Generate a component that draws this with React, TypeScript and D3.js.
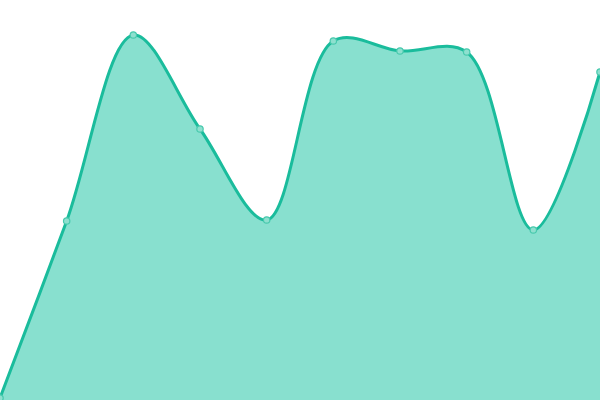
import React from "react";
import * as d3 from "d3";

const labels = ["1", "2", "3", "4", "5", "6", "7", "8", "9", "10"];
const values = [2, 179, 365, 271, 180, 359, 349, 348, 170, 328];

const W = 600;
const H = 400;

export default function App() {
  const x = d3.scalePoint<string>().domain(labels).range([0, W]);
  const y = d3.scaleLinear().domain([0, 400]).range([H, 0]);
  const data = labels.map((l, i) => ({ l, v: values[i] }));
  const curve = d3.curveCatmullRom.alpha(0.5);
  const area = d3
    .area<{ l: string; v: number }>()
    .x((d) => x(d.l)!)
    .y0(H)
    .y1((d) => y(d.v))
    .curve(curve);
  const line = d3
    .line<{ l: string; v: number }>()
    .x((d) => x(d.l)!)
    .y((d) => y(d.v))
    .curve(curve);
  return (
    <svg
      width={W}
      height={H}
      style={{ position: "fixed", left: 0, top: 0, display: "block" }}
    >
      <rect width={W} height={H} fill="#ffffff" />
      <path d={area(data)!} fill="#88e0cf" stroke="none" />
      <path d={line(data)!} fill="none" stroke="#1abc9c" strokeWidth={3} />
      {data.map((d) => (
        <circle
          key={d.l}
          cx={x(d.l)!}
          cy={y(d.v)}
          r={3.2}
          fill="#8ee0cf"
          stroke="#48c9ad"
          strokeWidth={1.2}
        />
      ))}
    </svg>
  );
}
